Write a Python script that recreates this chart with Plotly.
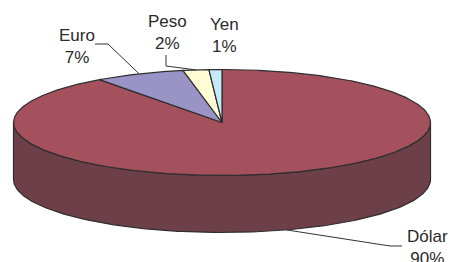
import numpy as np
import plotly.graph_objects as go

# ---- data ----
categories = ["Dólar", "Euro", "Peso", "Yen"]
values = [90, 7, 2, 1]

# ---- styles / layout constants ----
top_colors = ["#A4505D", "#9A94C6", "#FFFCD6", "#C4E9F9"]
side_colors = ["#6D3F49", "#5C587A", "#99977F", "#768B95"]
edge_color = "#2E2E2E"
W, H = 450, 262
CX, CY = 222, 122.5      # ellipse centre (pixels)
RX, RY = 208.5, 53       # ellipse radii
DEPTH = 57               # pie thickness
# label block centres and elbow points of leader lines
label_pos = {
    "Dólar": dict(x=427, y=247, elbow=[(402, 246), (390, 246)]),
    "Euro": dict(x=77, y=46, elbow=[(95, 44), (108, 44)]),
    "Peso": dict(x=167, y=32, elbow=[(166, 55), (166, 66)]),
    "Yen": dict(x=224.5, y=35, elbow=None),
}

total = float(sum(values))
fig = go.Figure()


def rim(theta_deg, dz=0.0):
    t = np.radians(theta_deg)
    return CX + RX * np.sin(t), CY - RY * np.cos(t) + dz


# slice angles, clockwise from 12 o'clock
starts, ends = [], []
acc = 0.0
for v in values:
    starts.append(acc)
    acc += v / total * 360.0
    ends.append(acc)

# side walls (visible front half: 90..270 deg)
for i, (a0, a1) in enumerate(zip(starts, ends)):
    lo, hi = max(a0, 90.0), min(a1, 270.0)
    if hi <= lo:
        continue
    th = np.linspace(lo, hi, 200)
    xt, yt = rim(th)
    xb, yb = rim(th[::-1], DEPTH)
    xs = np.concatenate([xt, xb, xt[:1]])
    ys = np.concatenate([yt, yb, yt[:1]])
    fig.add_trace(go.Scatter(x=xs, y=ys, mode="lines", fill="toself",
                             fillcolor=side_colors[i],
                             line=dict(color=edge_color, width=1.2),
                             hoverinfo="skip"))

# top faces
for i, (a0, a1) in enumerate(zip(starts, ends)):
    th = np.linspace(a0, a1, max(10, int((a1 - a0) * 3)))
    xa, ya = rim(th)
    xs = np.concatenate([[CX], xa, [CX]])
    ys = np.concatenate([[CY], ya, [CY]])
    fig.add_trace(go.Scatter(x=xs, y=ys, mode="lines", fill="toself",
                             fillcolor=top_colors[i],
                             line=dict(color=edge_color, width=1.2),
                             hoverinfo="skip"))

# labels and leader lines
for i, name in enumerate(categories):
    lp = label_pos[name]
    pct = f"{values[i] / total * 100:.0f}%"
    fig.add_annotation(x=lp["x"], y=lp["y"], text=f"{name}<br>{pct}",
                       showarrow=False, align="center",
                       font=dict(family="Arial, Liberation Sans, sans-serif",
                                 size=17, color="#2A2A2A"))
    if lp["elbow"]:
        mid = (starts[i] + ends[i]) / 2.0
        dz = DEPTH if 90 < mid < 270 else 0.0
        ax, ay = rim(mid, dz)
        pts = lp["elbow"] + [(float(ax), float(ay))]
        fig.add_trace(go.Scatter(x=[p[0] for p in pts], y=[p[1] for p in pts],
                                 mode="lines",
                                 line=dict(color="#333333", width=1),
                                 hoverinfo="skip"))

fig.update_layout(
    width=W, height=H,
    margin=dict(l=0, r=0, t=0, b=0),
    paper_bgcolor="white", plot_bgcolor="white",
    showlegend=False,
    xaxis=dict(range=[0, W], visible=False, fixedrange=True),
    yaxis=dict(range=[H, 0], visible=False, fixedrange=True),
)

fig.write_html(
    "out.html",
    config={"displayModeBar": False},
    post_script="document.body.style.margin='0';document.body.style.overflow='hidden';",
)
